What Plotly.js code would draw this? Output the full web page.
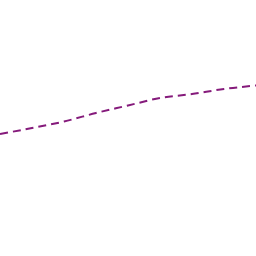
<!DOCTYPE html>
<html><head><meta charset="utf-8">
<script src="https://cdn.plot.ly/plotly-3.0.1.min.js"></script>
<style>html,body{margin:0;padding:0;background:#fff}#c{width:256px;height:256px}</style>
</head><body><div id="c"></div>
<script>
const xs = [0, 1, 2, 3, 4, 5, 6, 7, 8];
const ys = [122, 128, 134.5, 143, 150.5, 158, 162, 167, 170.5];
Plotly.newPlot('c', [{
  x: xs, y: ys, type: 'scatter', mode: 'lines',
  line: {color: '#851a7b', width: 2, dash: '8px,5px', shape: 'spline'}
}], {
  width: 256, height: 256, margin: {l: 0, r: 0, t: 0, b: 0},
  paper_bgcolor: '#fff', plot_bgcolor: '#fff', showlegend: false,
  xaxis: {range: [0, 8], visible: false, fixedrange: true},
  yaxis: {range: [0, 256], visible: false, fixedrange: true}
}, {displayModeBar: false, staticPlot: true});
</script></body></html>
